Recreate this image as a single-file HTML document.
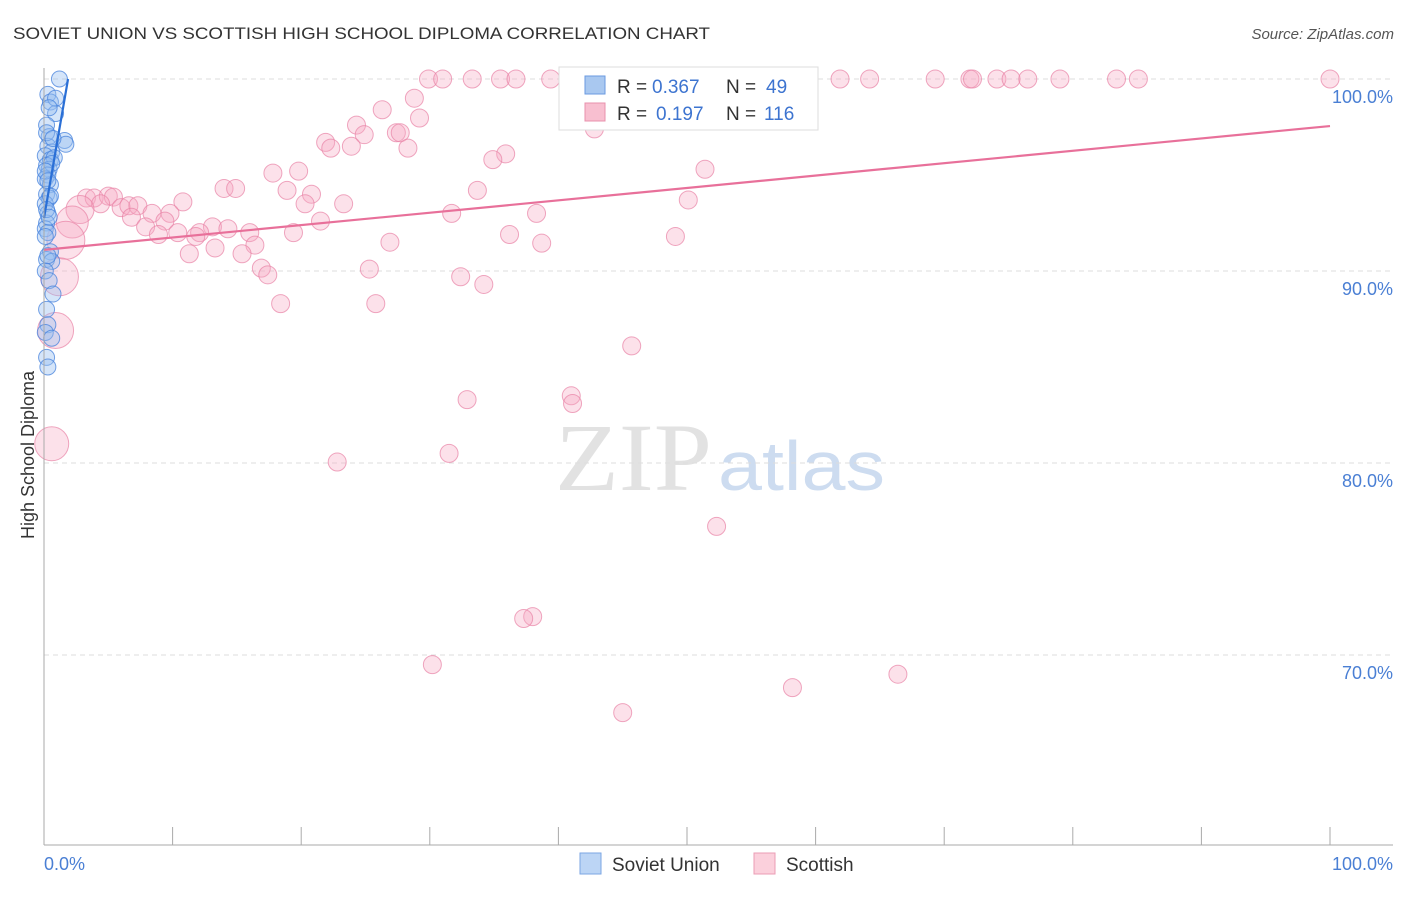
<!DOCTYPE html>
<html><head><meta charset="utf-8"><style>
body{margin:0;background:#fff;font-family:"Liberation Sans",sans-serif}
</style></head><body>
<svg id="c" width="1406" height="892" viewBox="0 0 1406 892" xmlns="http://www.w3.org/2000/svg">
<text x="13" y="39" font-size="17" fill="#333" textLength="697" lengthAdjust="spacingAndGlyphs">SOVIET UNION VS SCOTTISH HIGH SCHOOL DIPLOMA CORRELATION CHART</text>
<text x="1394" y="39" font-size="15" fill="#555" text-anchor="end" font-style="italic">Source: ZipAtlas.com</text>
<g><text x="555" y="490" font-size="96" fill="#e2e2e2" textLength="157" lengthAdjust="spacingAndGlyphs" font-family="Liberation Serif,serif">ZIP</text><text x="718" y="490" font-size="70" fill="#cddcf0" textLength="167" lengthAdjust="spacingAndGlyphs">atlas</text></g>
<g id="grid"></g><g id="pts"></g><g id="lines"></g><g id="axes"></g>
<text transform="translate(34,455) rotate(-90)" font-size="18" fill="#333" text-anchor="middle">High School Diploma</text>
<text x="44" y="870" font-size="18" fill="#4a7fd4">0.0%</text>
<text x="1393" y="870" font-size="18" fill="#4a7fd4" text-anchor="end">100.0%</text>
<g>
<rect x="559" y="67" width="259" height="63" fill="#fff" stroke="#ddd"/>
<rect x="585" y="76" width="20" height="18" fill="#a9c8f0" stroke="#6a9ae0"/>
<rect x="585" y="103" width="20" height="18" fill="#f8bfd0" stroke="#e890ac"/>
<text x="617" y="93" font-size="19" fill="#333">R =</text><text x="652" y="93" font-size="19" fill="#3d74d0">0.367</text>
<text x="726" y="93" font-size="19" fill="#333">N =</text><text x="766" y="93" font-size="19" fill="#3d74d0">49</text>
<text x="617" y="120" font-size="19" fill="#333">R =</text><text x="656" y="120" font-size="19" fill="#3d74d0">0.197</text>
<text x="726" y="120" font-size="19" fill="#333">N =</text><text x="764" y="120" font-size="19" fill="#3d74d0">116</text>
</g>
<g>
<rect x="580" y="853" width="21" height="21" fill="#bcd5f5" stroke="#7ba6e3"/>
<text x="612" y="871" font-size="19" fill="#333">Soviet Union</text>
<rect x="754" y="853" width="21" height="21" fill="#fbd0dc" stroke="#eb9db5"/>
<text x="786" y="871" font-size="19" fill="#333">Scottish</text>
</g>
</svg>
<script>
const yTicks=[100,90,80,70];
const yTickLabels=["100.0%","90.0%","80.0%","70.0%"];
const xTicks=[0,10,20,30,40,50,60,70,80,90,100];
const blueX=[1.2,0.3,0.5,0.9,0.2,0.4,1.6,1.7,0.3,0.6,0.1,0.5,0.8,0.2,0.4,0.6,0.3,0.1,0.5,0.2,0.4,0.1,0.3,0.2,0.1,0.3,0.5,0.2,0.6,0.1,0.4,0.7,0.2,0.3,0.1,0.6,0.2,0.3,0.9,0.4,0.2,0.7,0.1,0.3,0.5,0.2,0.4,0.1,0.3];
const blueY=[100,99.2,98.8,98.2,97.6,97.0,96.8,96.6,96.5,96.2,96.0,95.8,95.9,95.5,95.3,95.6,95.0,94.8,94.5,94.0,93.8,93.5,93.0,92.5,92.2,92.0,91.0,90.6,90.5,90.0,89.5,88.8,88.0,87.2,86.8,86.5,85.5,85.0,99.0,98.5,97.2,96.9,95.2,94.7,93.9,93.2,92.8,91.8,90.8];
const pinkX=[29.9,31.0,33.3,35.5,36.7,39.4,41.5,43.7,45.9,47.3,48.2,49.8,52.6,54.7,57.0,59.2,61.9,64.2,69.3,72.0,72.2,74.1,75.2,76.5,79.0,83.4,85.1,100,42.8,28.8,26.3,29.2,24.3,24.9,27.4,27.7,21.9,22.3,23.9,28.3,35.9,34.9,51.4,19.8,17.8,18.9,20.8,33.7,14.0,14.9,50.1,20.3,23.3,10.8,3.3,3.9,5.0,5.4,4.4,6.0,6.6,7.3,2.8,8.4,9.8,31.7,38.3,6.8,9.4,7.9,13.1,14.3,21.5,2.2,10.4,8.9,12.1,11.8,16.0,19.4,36.2,49.1,1.7,16.4,26.9,38.7,13.3,11.3,15.4,16.9,17.4,25.3,32.4,34.2,1.2,18.4,25.8,0.9,45.7,41.0,41.1,32.9,0.6,31.5,22.8,52.3,38.0,37.3,30.2,66.4,58.2,45.0];
const pinkY=[100,100,100,100,100,100,100,100,100,100,100,100,100,100,100,100,100,100,100,100,100,100,100,100,100,100,100,100,97.4,99.0,98.4,97.97,97.6,97.1,97.2,97.2,96.7,96.4,96.5,96.4,96.1,95.8,95.3,95.2,95.1,94.2,94.0,94.2,94.3,94.3,93.7,93.5,93.5,93.6,93.8,93.8,93.9,93.85,93.5,93.3,93.4,93.4,93.2,93.0,93.0,93.0,93.0,92.8,92.6,92.3,92.3,92.2,92.6,92.55,92.0,91.9,92.0,91.8,92.0,92.0,91.9,91.8,91.6,91.35,91.5,91.45,91.2,90.9,90.9,90.15,89.8,90.1,89.7,89.3,89.7,88.3,88.3,86.9,86.1,83.5,83.1,83.3,81.0,80.5,80.05,76.7,72.0,71.9,69.5,69.0,68.3,67.0];
const pinkR=[9,9,9,9,9,9,9,9,9,9,9,9,9,9,9,9,9,9,9,9,9,9,9,9,9,9,9,9,9,9,9,9,9,9,9,9,9,9,9,9,9,9,9,9,9,9,9,9,9,9,9,9,9,9,9,9,9,9,9,9,9,9,14,9,9,9,9,9,9,9,9,9,9,16,9,9,9,9,9,9,9,9,19,9,9,9,9,9,9,9,9,9,9,9,19,9,9,18,9,9,9,9,17,9,9,9,9,9,9,9,9,9];
const blueTrendX=[0,1.87];const blueTrendY=[92.76,100];
const pinkTrendX=[0,100];const pinkTrendY=[91.1,97.55];
const X=v=>44+v*12.86, Y=v=>79+(100-v)*19.2;
const NS="http://www.w3.org/2000/svg";
function mk(p,t,a){const e=document.createElementNS(NS,t);for(const k in a)e.setAttribute(k,a[k]);p.appendChild(e);return e;}
const grid=document.getElementById('grid'),pts=document.getElementById('pts'),lines=document.getElementById('lines'),axes=document.getElementById('axes');
yTicks.forEach((t,i)=>{
 const l=mk(grid,'line',{x1:44,x2:1393,y1:Y(t),y2:Y(t),stroke:'#ddd','stroke-dasharray':'5,4'});
 
 
 const tx=mk(axes,'text',{x:1393,y:Y(t)+24,'font-size':18,fill:'#4a7fd4','text-anchor':'end'});tx.textContent=yTickLabels[i];
 
 
});
const ya=mk(axes,'line',{x1:44,x2:44,y1:68,y2:845,stroke:'#aaa'});


const xa=mk(axes,'line',{x1:44,x2:1393,y1:845,y2:845,stroke:'#aaa'});


xTicks.forEach(t=>{const l=mk(axes,'line',{x1:X(t),x2:X(t),y1:827,y2:845,stroke:'#aaa'});
 
 });
pinkX.forEach((v,i)=>{const c=mk(pts,'circle',{cx:X(v),cy:Y(pinkY[i]),r:pinkR[i],fill:'rgba(246,170,195,0.35)',stroke:'rgba(232,130,165,0.7)'});
 
 });
blueX.forEach((v,i)=>{const c=mk(pts,'circle',{cx:X(v),cy:Y(blueY[i]),r:8,fill:'rgba(150,190,240,0.4)',stroke:'rgba(70,130,220,0.75)'});
 
 });
const pl=mk(lines,'line',{x1:X(pinkTrendX[0]),y1:Y(pinkTrendY[0]),x2:X(pinkTrendX[1]),y2:Y(pinkTrendY[1]),stroke:'#e8709a','stroke-width':2.2});


const bl=mk(lines,'line',{x1:X(blueTrendX[0]),y1:Y(blueTrendY[0]),x2:X(blueTrendX[1]),y2:Y(blueTrendY[1]),stroke:'#2a6fd6','stroke-width':2.2});


</script>
</body></html>
